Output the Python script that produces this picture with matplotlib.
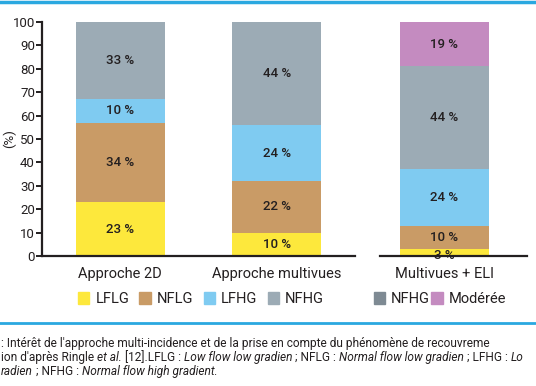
import numpy as np
import matplotlib.pyplot as plt
from matplotlib.patches import Patch

plt.rcParams['font.family'] = ['Roboto', 'DejaVu Sans']

# data
groups_left = ["Approche 2D", "Approche multivues"]
lflg = [23, 10]
nflg = [34, 22]
lfhg = [10, 24]
nfhg = [33, 44]

group_right = ["Multivues + ELI"]
eli_values = [3, 10, 24, 44, 19]

legend_left = ["LFLG", "NFLG", "LFHG", "NFHG"]
legend_right = ["NFHG", "Modérée"]

yellow = "#FDE83C"
brown = "#C99B66"
lblue = "#7FCBF1"
grey = "#9CABB5"
dgrey = "#7E8A93"
pink = "#C48BC0"
cyan = "#2AA8E0"
txt = "#231F20"

fig = plt.figure(figsize=(5.36, 3.86), dpi=100)
W, H = 536, 386

def frac(x0, y0, x1, y1):
    return [x0 / W, 1 - y1 / H, (x1 - x0) / W, (y1 - y0) / H]

ax1 = fig.add_axes(frac(42, 22, 355, 256))
ax2 = fig.add_axes(frac(380, 22, 527, 256))

bw = 0.57
# left panel: two stacked bars
x = np.arange(len(groups_left))
bottom = np.zeros(len(groups_left))
for vals, col in zip([lflg, nflg, lfhg, nfhg], [yellow, brown, lblue, grey]):
    ax1.bar(x, vals, bw, bottom=bottom, color=col, linewidth=0)
    for xi, b, v in zip(x, bottom, vals):
        ax1.text(xi, b + v / 2, f"{v} %", ha='center', va='center',
                 fontsize=9.5, color=txt, fontweight='medium')
    bottom += np.array(vals)

# right panel: multivues + ELI
colors_r = [yellow, brown, lblue, grey, pink]
b = 0
for v, col in zip(eli_values, colors_r):
    ax2.bar(0, v, bw, bottom=b, color=col, linewidth=0)
    yt = b + v / 2
    if v < 5:
        yt = b + 0.3
    ax2.text(0, yt, f"{v} %", ha='center', va='center', fontsize=9.5,
             color=txt, fontweight='medium')
    b += v

for ax in (ax1, ax2):
    ax.set_ylim(0, 100)
    for s in ['top', 'right']:
        ax.spines[s].set_visible(False)
    ax.spines['bottom'].set_linewidth(1.6)
    ax.spines['bottom'].set_color(txt)
    ax.tick_params(axis='x', length=0, labelsize=10.5, labelcolor=txt, pad=8)

ax1.set_xlim(-0.5, 1.5)
ax1.set_xticks(x)
ax1.set_xticklabels(groups_left)
ax1.set_yticks(np.arange(0, 101, 10))
ax1.spines['left'].set_linewidth(1.6)
ax1.spines['left'].set_color(txt)
ax1.tick_params(axis='y', length=4, width=1.4, color=txt, labelsize=9.5,
                labelcolor=txt, pad=1)
ax1.set_ylabel("(%)", fontsize=9.5, color=txt)
ax1.yaxis.set_label_coords(-0.082, 0.5)

ax2.set_xlim(-0.413, 0.529)
ax2.set_xticks([0])
ax2.set_xticklabels(group_right)
ax2.spines['left'].set_visible(False)
ax2.set_yticks([])

# legends
h1 = [Patch(color=c) for c in [yellow, brown, lblue, grey]]
fig.legend(h1, legend_left, loc='center', bbox_to_anchor=(201 / W, 1 - 299 / H),
           ncol=4, frameon=False, fontsize=10.5, handlelength=0.8,
           handleheight=0.8, handletextpad=0.4, columnspacing=0.7,
           labelcolor=txt)
h2 = [Patch(color=c) for c in [dgrey, pink]]
fig.legend(h2, legend_right, loc='center', bbox_to_anchor=(440 / W, 1 - 299 / H),
           ncol=2, frameon=False, fontsize=10.5, handlelength=0.8,
           handleheight=0.8, handletextpad=0.4, columnspacing=0.1,
           labelcolor=txt)

# blue rules
fig.add_artist(plt.Line2D([0, 1], [1 - 1.5 / H, 1 - 1.5 / H], color=cyan, lw=2.5))
fig.add_artist(plt.Line2D([0, 1], [1 - 323 / H, 1 - 323 / H], color=cyan, lw=2))

# caption (the visible part of the page, as in the source crop)
fs = 8.6
lines = [
    [(": Intérêt de l'approche multi-incidence et de la prise en compte du "
      "phénomène de recouvreme", 'normal')],
    [("ion d'après Ringle ", 'normal'), ("et al.", 'italic'),
     (" [12].LFLG : ", 'normal'), ("Low flow low gradien", 'italic'),
     (" ; NFLG : ", 'normal'), ("Normal flow low gradien", 'italic'),
     (" ; LFHG : ", 'normal'), ("Lo", 'italic')],
    [("radien", 'italic'), (" ; NFHG : ", 'normal'),
     ("Normal flow high gradient.", 'italic')],
]
ys = [347, 361, 375]
for parts, yy in zip(lines, ys):
    prev = None
    for s, st in parts:
        if prev is None:
            prev = fig.text(1 / W, 1 - yy / H, s, fontsize=fs, style=st,
                            color=txt, va='baseline', ha='left')
        else:
            prev = fig.add_artist(plt.Annotation(
                s, xy=(1, 0), xycoords=prev, va='bottom', ha='left',
                fontsize=fs, style=st, color=txt))

fig.savefig("out.png", dpi=100)
